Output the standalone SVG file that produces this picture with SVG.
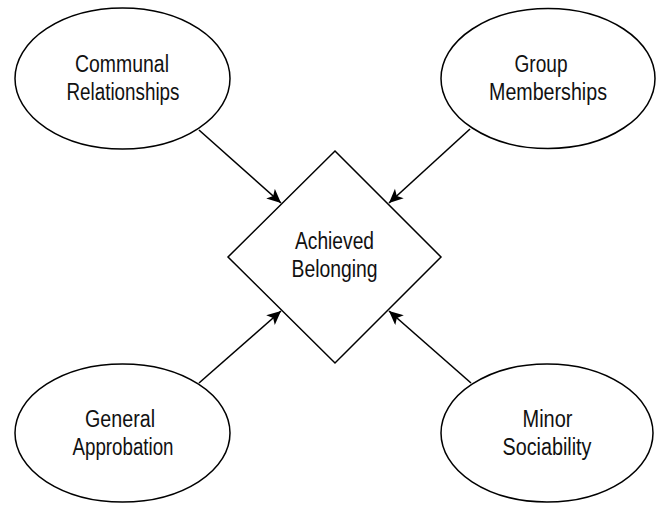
<svg xmlns="http://www.w3.org/2000/svg" width="658" height="505" viewBox="0 0 658 505">
  <style>
    .shape { fill: #ffffff; stroke: #000000; stroke-width: 1.5; }
    .label { font-family: "Liberation Sans", Arial, sans-serif; font-size: 23px; fill: #111111; text-anchor: middle; }
    .edge { stroke: #000000; stroke-width: 1.6; fill: none; marker-end: url(#arrow); }
  </style>
  <defs>
    <marker id="arrow" markerUnits="userSpaceOnUse" markerWidth="16" markerHeight="14" refX="14" refY="6.5" orient="auto" viewBox="0 0 16 14">
      <path d="M0,0 L14,6.5 L0,13 L3.5,6.5 Z" fill="#000000"/>
    </marker>
  </defs>
  <rect width="658" height="505" fill="#ffffff"/>

  <g id="communal-relationships">
    <ellipse class="shape" cx="122.5" cy="78.5" rx="107.5" ry="70.5"/>
    <text class="label" x="122" y="72" textLength="94" lengthAdjust="spacingAndGlyphs">Communal</text>
    <text class="label" x="123" y="100" textLength="113" lengthAdjust="spacingAndGlyphs">Relationships</text>
  </g>

  <g id="group-memberships">
    <ellipse class="shape" cx="548" cy="78.5" rx="107" ry="70"/>
    <text class="label" x="541" y="72" textLength="53" lengthAdjust="spacingAndGlyphs">Group</text>
    <text class="label" x="548" y="100" textLength="118" lengthAdjust="spacingAndGlyphs">Memberships</text>
  </g>

  <g id="achieved-belonging">
    <polygon class="shape" points="335,151 441,257 335,363 228,257"/>
    <text class="label" x="334.5" y="249" textLength="79" lengthAdjust="spacingAndGlyphs">Achieved</text>
    <text class="label" x="334.5" y="277" textLength="86" lengthAdjust="spacingAndGlyphs">Belonging</text>
  </g>

  <g id="general-approbation">
    <ellipse class="shape" cx="122.5" cy="433" rx="107.5" ry="69"/>
    <text class="label" x="120" y="427" textLength="70" lengthAdjust="spacingAndGlyphs">General</text>
    <text class="label" x="123" y="455" textLength="101" lengthAdjust="spacingAndGlyphs">Approbation</text>
  </g>

  <g id="minor-sociability">
    <ellipse class="shape" cx="547" cy="433" rx="106" ry="69"/>
    <text class="label" x="547.5" y="427" textLength="50" lengthAdjust="spacingAndGlyphs">Minor</text>
    <text class="label" x="547" y="455" textLength="89" lengthAdjust="spacingAndGlyphs">Sociability</text>
  </g>

  <g id="connectors">
    <line class="edge" x1="199" y1="130" x2="281" y2="203"/>
    <line class="edge" x1="470" y1="129" x2="389" y2="203"/>
    <line class="edge" x1="199" y1="383" x2="281" y2="311"/>
    <line class="edge" x1="471" y1="383" x2="389" y2="311"/>
  </g>
</svg>
